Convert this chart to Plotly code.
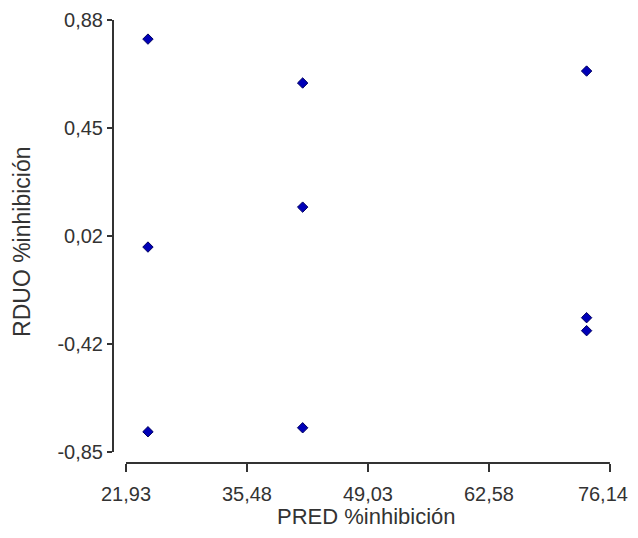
import plotly.graph_objects as go

pred = [24.39, 24.39, 24.39, 41.72, 41.72, 41.72, 73.53, 73.53, 73.53]
rduo = [0.804, -0.029, -0.769, 0.628, 0.131, -0.753, 0.676, -0.312, -0.364]

x_ticks = [21.93, 35.4825, 49.035, 62.5875, 76.14]
x_ticktext = ["21,93", "35,48", "49,03", "62,58", "76,14"]
y_ticks = [-0.85, -0.4175, 0.015, 0.4475, 0.88]
y_ticktext = ["-0,85", "-0,42", "0,02", "0,45", "0,88"]
x_title = "PRED %inhibición"
y_title = "RDUO %inhibición"

# page body has an 8px margin, so the figure is sized to fit the window
W, H = 622, 522
# figure-pixel positions: x-axis 118..602, y-axis 12..444, lines at x=105, y=455
L, R, T, B = 105, W - 602, 12, H - 455
xs = (76.14 - 21.93) / (602 - 118)
x0 = 21.93 - (118 - L) * xs
ys = (0.88 - (-0.85)) / (444 - 12)
y0 = -0.85 - (455 - 444) * ys
x_range = [x0, 76.14 + 0.01]

fig = go.Figure()
fig.add_trace(go.Scatter(
    x=pred, y=rduo, mode="markers",
    marker=dict(symbol="diamond", size=8, color="#0000b8",
                line=dict(color="#000060", width=1)),
    showlegend=False,
))
# empty helper trace so the helper axis (last x label) gets drawn
fig.add_trace(go.Scatter(x=[], y=[], xaxis="x2", yaxis="y", mode="markers",
                         showlegend=False, hoverinfo="skip"))

axis_col = "#333333"
txt_col = "#333333"
# the last x label sits on a helper axis so it can be nudged inside the page
main_text = x_ticktext[:-1] + [""]
fig.update_layout(
    width=W, height=H,
    margin=dict(l=L, r=R, t=T, b=B, pad=0),
    paper_bgcolor="white", plot_bgcolor="white",
    font=dict(family="Liberation Sans, Arial, sans-serif", color=txt_col),
    xaxis=dict(range=x_range, showgrid=False, zeroline=False, showline=False,
               automargin=False, ticklabeloverflow="allow",
               tickvals=x_ticks, ticktext=main_text, ticks="outside", ticklen=8,
               tickwidth=2, tickcolor=axis_col, tickfont=dict(size=20),
               ticklabelstandoff=5),
    xaxis2=dict(range=x_range, overlaying="x", anchor="y", side="bottom",
                showgrid=False, zeroline=False, showline=False,
                automargin=False, ticklabeloverflow="allow",
                tickvals=[x_ticks[-1]], ticktext=[x_ticktext[-1]], ticks="outside",
                ticklen=8, tickwidth=2, tickcolor=axis_col, tickfont=dict(size=20),
                ticklabelstandoff=5, ticklabelshift=-7),
    yaxis=dict(range=[y0, 0.88 + 0.0005], showgrid=False, zeroline=False, showline=False,
               automargin=False, ticklabeloverflow="allow",
               tickvals=y_ticks, ticktext=y_ticktext, ticks="outside", ticklen=5,
               tickwidth=2, tickcolor=axis_col, tickfont=dict(size=20)),
    shapes=[
        dict(type="line", xref="x", yref="paper", x0=21.93, x1=76.14, y0=0, y1=0,
             line=dict(color=axis_col, width=2)),
        dict(type="line", xref="paper", yref="y", x0=0, x1=0, y0=-0.85, y1=0.88,
             line=dict(color=axis_col, width=2)),
    ],
    annotations=[
        dict(text=x_title, xref="paper", yref="paper", x=0.51, y=0,
             xanchor="center", yanchor="middle", yshift=-53, showarrow=False,
             font=dict(size=22, color=txt_col)),
        dict(text=y_title, xref="paper", yref="paper", x=0, y=0.499,
             xanchor="center", yanchor="middle", xshift=-91, textangle=-90,
             showarrow=False, font=dict(size=23, color=txt_col)),
    ],
)

fig.write_html("out.html")
